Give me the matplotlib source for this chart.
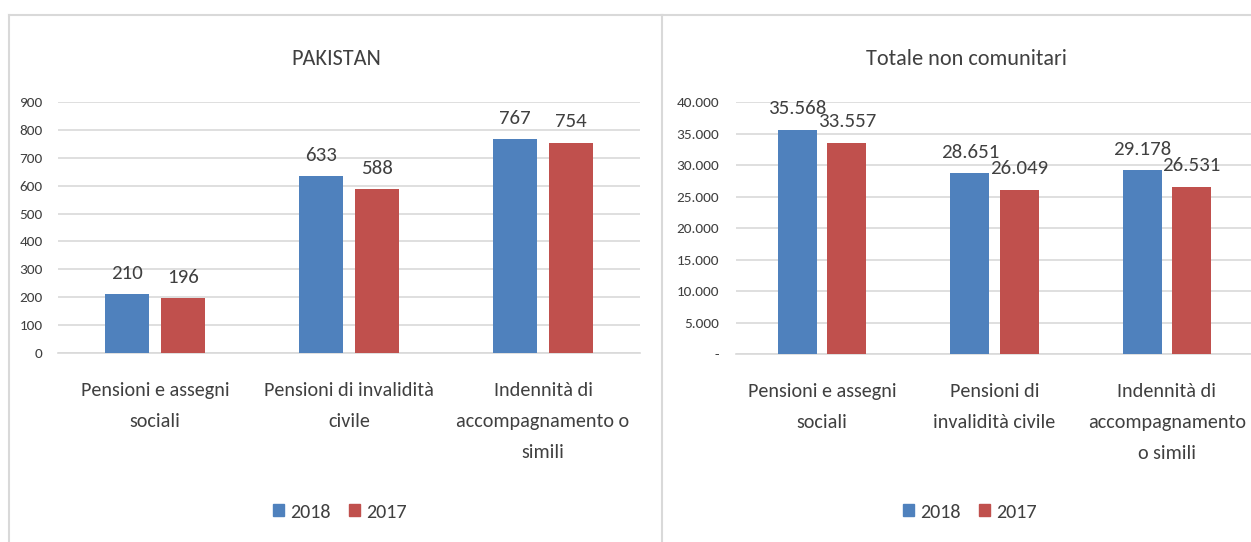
import matplotlib.pyplot as plt
from matplotlib.patches import Patch
from matplotlib.lines import Line2D
from matplotlib.ticker import FuncFormatter

plt.rcParams['font.family'] = ['Carlito', 'DejaVu Sans']

years = ["2018", "2017"]
colors = ["#4F81BD", "#C0504D"]

pk_categories = ["Pensioni e assegni\nsociali", "Pensioni di invalidità\ncivile",
                 "Indennità di\naccompagnamento o\nsimili"]
pk_2018 = [210, 633, 767]
pk_2017 = [196, 588, 754]
pk_ticks = [0, 100, 200, 300, 400, 500, 600, 700, 800, 900]

nc_categories = ["Pensioni e assegni\nsociali", "Pensioni di\ninvalidità civile",
                 "Indennità di\naccompagnamento\no simili"]
nc_2018 = [35568, 28651, 29178]
nc_2017 = [33557, 26049, 26531]
nc_ticks = [0, 5000, 10000, 15000, 20000, 25000, 30000, 35000, 40000]

TXT = "#404040"
GRID = "#D9D9D9"
W, H = 1251, 542


def it_fmt(v):
    # formato italiano: punto come separatore delle migliaia, zero come "-"
    if v == 0:
        return "-"
    return f"{int(round(v)):,}".replace(",", ".")


def draw_panel(ax, cats, s18, s17, ticks, fmt, ypad):
    x = range(len(cats))
    w = 0.225
    off = 0.143
    b1 = ax.bar([i - off for i in x], s18, w, color=colors[0], zorder=3)
    b2 = ax.bar([i + off for i in x], s17, w, color=colors[1], zorder=3)
    for bars, vals in ((b1, s18), (b2, s17)):
        for b, v in zip(bars, vals):
            ax.annotate(fmt(v), (b.get_x() + b.get_width() / 2, v),
                        xytext=(0, 9), textcoords="offset points",
                        ha="center", va="bottom", fontsize=15, color=TXT)
    ax.set_ylim(ticks[0], ticks[-1])
    ax.set_xlim(-0.5, len(cats) - 0.5)
    ax.set_yticks(ticks)
    ax.yaxis.set_major_formatter(FuncFormatter(lambda v, p: fmt(v)))
    ax.set_xticks(list(x))
    ax.set_xticklabels(cats, fontsize=14.5, color=TXT, linespacing=2.0)
    ax.tick_params(axis="y", length=0, labelsize=11, labelcolor=TXT, pad=ypad)
    ax.tick_params(axis="x", length=0, pad=21)
    ax.grid(axis="y", color=GRID, linewidth=1.2, zorder=0)
    for s in ("top", "right", "left"):
        ax.spines[s].set_visible(False)
    ax.spines["bottom"].set_color(GRID)
    ax.spines["bottom"].set_linewidth(1.2)


fig = plt.figure(figsize=(W / 100, H / 100), dpi=100)

ax1 = fig.add_axes([58 / W, 1 - 353 / H, 582 / W, 251 / H])
draw_panel(ax1, pk_categories, pk_2018, pk_2017, pk_ticks,
           lambda v: f"{int(round(v))}", 11)

ax2 = fig.add_axes([736 / W, 1 - 354 / H, 517 / W, 252 / H])
draw_panel(ax2, nc_categories, nc_2018, nc_2017, nc_ticks, it_fmt, 12)

fig.text(336 / W, 1 - 59 / H, "PAKISTAN", ha="center", va="center",
         fontsize=16, color=TXT)
fig.text(966 / W, 1 - 59 / H, "Totale non comunitari", ha="center", va="center",
         fontsize=16, color=TXT)

# cornici dei due pannelli
for x0, x1 in ((9, 662), (662, W)):
    fig.add_artist(Line2D([x0 / W, x1 / W], [1 - 15 / H] * 2,
                          transform=fig.transFigure, color=GRID, linewidth=1.5))
    fig.add_artist(Line2D([x0 / W] * 2, [0, 1 - 15 / H],
                          transform=fig.transFigure, color=GRID, linewidth=1.5))

handles = [Patch(color=c) for c in colors]
for cx in (340 / W, 970 / W):
    fig.legend(handles, years, loc="center", bbox_to_anchor=(cx, 1 - 512 / H),
               ncol=2, frameon=False, fontsize=14.5, handlelength=0.55, handleheight=0.55,
               handletextpad=0.3, columnspacing=0.9, labelcolor=TXT)

fig.savefig("out.png", dpi=100)
